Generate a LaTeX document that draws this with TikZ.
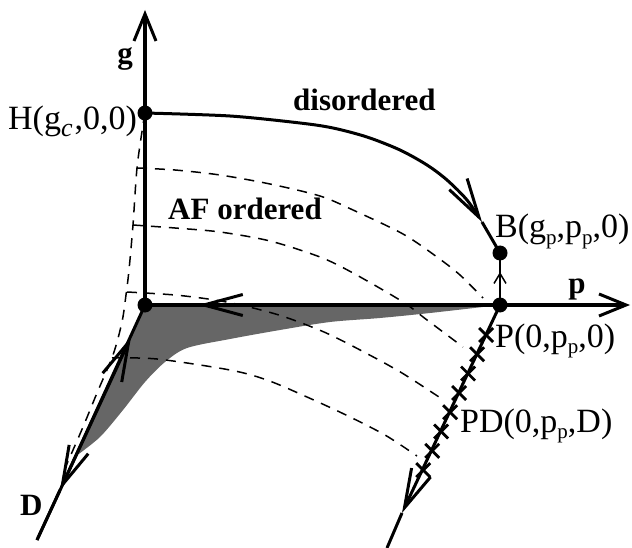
\documentclass[tikz,border=0pt]{standalone}
\usepackage{fontspec}
\setmainfont{Liberation Serif}
\usetikzlibrary{arrows.meta,calc}
\newcommand{\lowsub}[1]{\raisebox{-6pt}{\fontsize{21}{21}\selectfont #1}}
\newcommand{\lowsubc}[1]{\raisebox{-7pt}{\fontsize{26}{26}\selectfont #1}\kern2pt}
\begin{document}
\begin{tikzpicture}[x=1pt,y=-1pt,
  axisline/.style={line width=3.4pt},
  flowline/.style={line width=3pt},
  bigbarb/.style={-{Straight Barb[length=39pt,width=21pt,line width=3pt]}},
  axisbarb/.style={-{Straight Barb[length=27pt,width=22pt,line width=3pt]}},
  smallbarb/.style={-{Straight Barb[length=10pt,width=12pt,line width=1.5pt]}},
  dashline/.style={line width=1.5pt,dash pattern=on 10pt off 8pt},
  crossmark/.style={line width=2.8pt},
  dot/.style={circle,fill=black,inner sep=0pt,minimum size=15pt},
  lab/.style={inner sep=0pt,font=\fontsize{34}{40}\selectfont},
  blab/.style={inner sep=0pt,font=\fontsize{31}{36}\selectfont\bfseries},
  shade/.style={fill=black!60}
]
\useasboundingbox (0,0) rectangle (632,548);

% key points
\coordinate (gtop) at (145,10);
\coordinate (pend) at (630,305);
\coordinate (Dend) at (37,540);
\coordinate (PDend) at (387,548);
\coordinate (Dup) at (131,337);
\coordinate (Ddown) at (60,490);
\coordinate (pleft) at (198,305);
\coordinate (PDdown) at (402,513);
\coordinate (Barrow) at (500,272);
\coordinate (disarrow) at (482,222);

% shaded region
\fill[shade] (145,305) -- plot[smooth] coordinates {(500,305)(430,313)(380,318)(330,322)(280,330)(230,339)(187,348)(165,362)(145,382)(123,410)(100,437)(76,456)} -- cycle;

% dashed surface curves
\draw[dashline] plot[smooth] coordinates {(145,113)(143,125)(137,168)(133,225)(129,270)(126,295)(122,322)(113,355)(97,393)(83,427)(66,466)};
\draw[dashline] plot[smooth] coordinates {(137,168)(175,170)(220,175)(270,184)(320,196)(353,210)(403,234)(437,257)(460,275)(483,298)};
\draw[dashline] plot[smooth] coordinates {(133,225)(175,228)(220,232)(270,241)(320,257)(353,273)(403,302)(427,320)(463,347)};
\draw[dashline] plot[smooth] coordinates {(127,292)(175,295)(215,300)(245,306)(282,316)(324,332)(362,351)(402,373)(445,401)};
\draw[dashline] plot[smooth] coordinates {(112,358)(157,359)(230,370)(267,380)(307,397)(346,415)(385,435)(417,456)};

% dots
\node[dot] (O) at (145,305) {};
\node[dot] (H) at (145,113) {};
\node[dot] (P) at (500,305) {};
\node[dot] (B) at (500,253) {};

% axes
\draw[axisline,axisbarb] (O.center) -- (gtop);
\draw[axisline] (O.center) -- (P.center);
\draw[axisline,axisbarb] (P.center) -- (pend);
\draw[axisline,bigbarb] (P.center) -- (pleft);
\draw[flowline,bigbarb] (O.center) -- (Ddown);
\draw[flowline] (Ddown) -- (Dend);
\draw[flowline,bigbarb] (Dend) -- (Dup);

% disordered flow
\draw[flowline,bigbarb] plot[smooth] coordinates {(145,113)(230,116)(300,123)(333,128)(367,137)(400,150)(427,165)(447,180)(467,200)(482,222)};
\draw[flowline] (disarrow) -- (B.center);

% P to B
\draw[line width=2.4pt] (P.center) -- (B.center);
\draw[smallbarb] (P.center) -- (Barrow);

% PD line
\draw[flowline,bigbarb] (P.center) -- (PDdown);
\draw[flowline] (PDdown) -- (PDend);
\foreach \t [evaluate=\t as \f using (30+19.3*\t)/243] in {0,...,7}
  \draw[crossmark] ($(P.center)!\f!(PDend)$) +(-7,-7) -- +(7,7) +(-7,7) -- +(7,-7);

% labels
\node[blab,anchor=base] (glab) at (125,64) {g};
\node[lab,anchor=base west] (Hlab) at (8,130) {H(g\lowsubc{\itshape c},0,0)};
\node[blab,anchor=base west] (dislab) at (293,111) {disordered};
\node[blab,anchor=base west] (aflab) at (168,220) {AF ordered};
\node[lab,anchor=base west] (Blab) at (495,238) {B(g\lowsub{p},p\lowsub{p},0)};
\node[blab,anchor=base] (plab) at (577,293) {p};
\node[lab,anchor=base west] (Plab) at (495,347) {P(0,p\lowsub{p},0)};
\node[lab,anchor=base west] (PDlab) at (460,432) {PD(0,p\lowsub{p},D)};
\node[blab,anchor=base west] (Dlab) at (20,515) {D};
\end{tikzpicture}
\end{document}
